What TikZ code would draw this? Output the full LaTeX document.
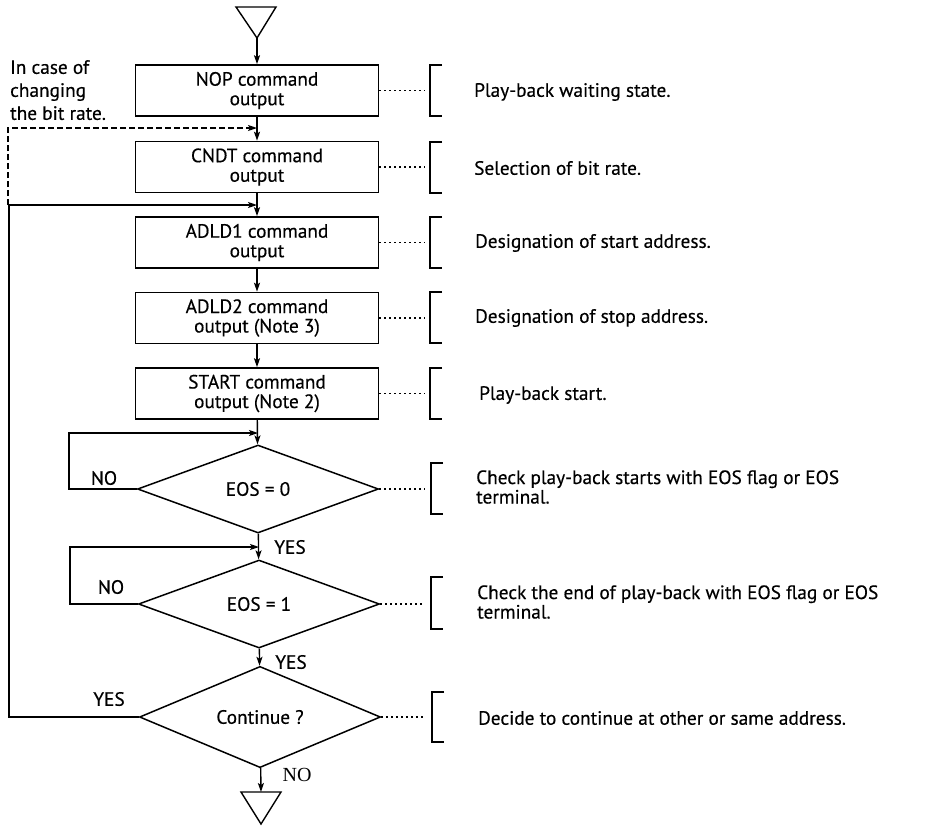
\documentclass[tikz,border=0pt]{standalone}
\usepackage{fontspec}
\setmainfont{PT Sans}[FakeBold=0.4]
\newfontfamily\nofont{Liberation Serif}
\usetikzlibrary{shapes.geometric,arrows.meta}
\tikzset{
	cmd/.style={draw,line width=1.6pt,minimum width=243pt,minimum height=51pt,inner sep=0pt,align=center},
	test/.style={draw,diamond,line width=1.5pt,minimum width=241pt,minimum height=88pt,inner sep=0pt},
	flow/.style={line width=1.4pt,-{Stealth[length=9pt,width=6pt,inset=2pt]}},
	dots/.style={line width=1.6pt,dash pattern=on 2pt off 3pt},
	brk/.style={line width=1.5pt},
	note/.style={anchor=west,align=left,inner sep=0pt},
	ans/.style={inner sep=0pt}
}
\begin{document}
\begin{tikzpicture}[x=1pt,y=-1pt,font=\fontsize{19.3}{19.5}\selectfont]
	\useasboundingbox (0,0) rectangle (949,825);
	\draw[line width=1.4pt] (236,7) -- (276,7) -- (257,38) -- cycle;
	\coordinate (top) at (257,38);
	\node[cmd] (nop) at (257,90.5) {NOP command\\output};
	\node[cmd] (cndt) at (257,167) {CNDT command\\output};
	\node[cmd] (adld1) at (257,242.5) {ADLD1 command\\output};
	\node[cmd] (adld2) at (257,318) {ADLD2 command\\output (Note 3)};
	\node[cmd] (start) at (257,393.5) {START command\\output (Note 2)};
	\node[test] (eos0) at (258,489) {EOS = 0};
	\node[test] (eos1) at (259,604) {EOS = 1};
	\node[test] (cont) at (260,717) {Continue ?};
	\draw[line width=1.4pt] (241,792) -- (281,792) -- (261,824) -- cycle;
	\coordinate (bot) at (261,792);
	\draw[flow] (top) -- (nop);
	\draw[flow] (nop) -- (cndt);
	\draw[flow] (cndt) -- (adld1);
	\draw[flow] (adld1) -- (adld2);
	\draw[flow] (adld2) -- (start);
	\draw[flow] (start) -- (eos0);
	\draw[flow] (eos0) -- (eos1);
	\draw[flow] (eos1) -- (cont);
	\draw[flow] (cont) -- (bot);
	\coordinate (j1) at (257,128);
	\coordinate (j2) at (257,205);
	\coordinate (j3) at (258,433);
	\coordinate (j4) at (259,547);
	\draw[flow,dashed,dash pattern=on 6pt off 3pt] (8,205) -- (8,128) -- (j1);
	\draw[flow] (cont.west) -- (9,717) -- (9,205) -- (j2);
	\draw[flow] (eos0.west) -- (69,489) -- (69,433) -- (j3);
	\draw[flow] (eos1.west) -- (70,604) -- (70,547) -- (j4);
	\node[note,anchor=north west,font=\fontsize{19.3}{23}\selectfont] (chg) at (10,60) {In case of\\changing\\the bit rate.};
	\node[ans] (no1) at (104,478) {NO};
	\node[ans] (no2) at (111,587) {NO};
	\node[ans] (yes3) at (109,699) {YES};
	\node[ans] (yes1) at (290,547) {YES};
	\node[ans] (yes2) at (291,662) {YES};
	\node[ans,font=\nofont\fontsize{20}{20}\selectfont] (no3) at (297,775) {NO};
	\coordinate (b1) at (425,90.5);
	\coordinate (b2) at (425,167);
	\coordinate (b3) at (425,242.5);
	\coordinate (b4) at (425,318);
	\coordinate (b5) at (425,393.5);
	\coordinate (b6) at (425,489);
	\coordinate (b7) at (425,604);
	\coordinate (b8) at (425,717);
	\draw[dots] (nop.east) -- (b1);
	\draw[dots] (cndt.east) -- (b2);
	\draw[dots] (adld1.east) -- (b3);
	\draw[dots] (adld2.east) -- (b4);
	\draw[dots] (start.east) -- (b5);
	\draw[dots] (eos0.east) -- (b6);
	\draw[dots] (eos1.east) -- (b7);
	\draw[dots] (cont.east) -- (b8);
	\draw[brk] (442,65) -- (430,65) -- (430,116) -- (442,116);
	\draw[brk] (442,142) -- (430,142) -- (430,193) -- (442,193);
	\draw[brk] (442,217) -- (430,217) -- (430,268) -- (442,268);
	\draw[brk] (442,292) -- (430,292) -- (430,343) -- (442,343);
	\draw[brk] (442,368) -- (430,368) -- (430,419) -- (442,419);
	\draw[brk] (443,463) -- (431,463) -- (431,514) -- (443,514);
	\draw[brk] (443,577) -- (431,577) -- (431,629) -- (443,629);
	\draw[brk] (444,692) -- (432,692) -- (432,742) -- (444,742);
	\node[note] (t1) at (474,92) {Play-back waiting state.};
	\node[note] (t2) at (474,168) {Selection of bit rate.};
	\node[note] (t3) at (475,243) {Designation of start address.};
	\node[note] (t4) at (475,318) {Designation of stop address.};
	\node[note] (t5) at (479,395) {Play-back start.};
	\node[note] (t6) at (476,487) {Check play-back starts with EOS flag or EOS\\terminal.};
	\node[note] (t7) at (477,602) {Check the end of play-back with EOS flag or EOS\\terminal.};
	\node[note] (t8) at (478,718) {Decide to continue at other or same address.};
\end{tikzpicture}
\end{document}
